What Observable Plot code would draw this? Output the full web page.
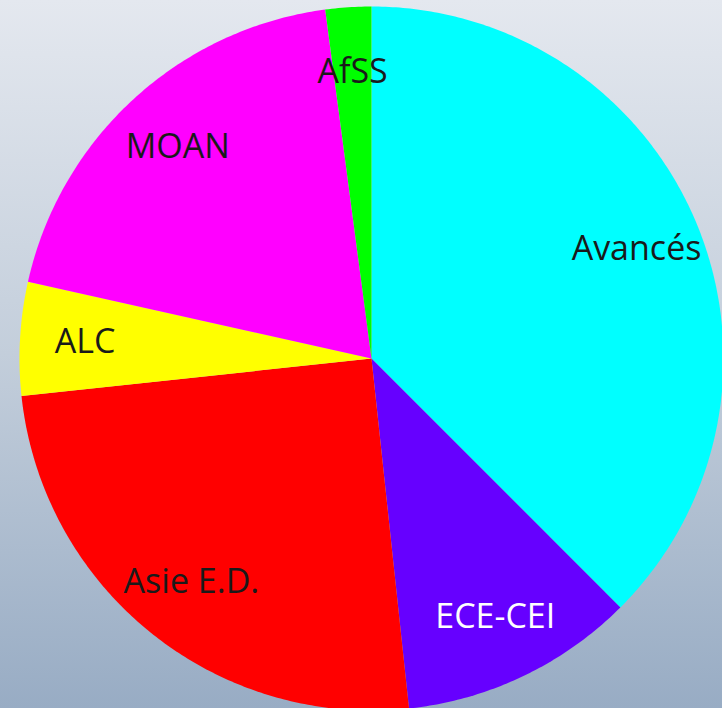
<!DOCTYPE html>
<html>
<head>
<meta charset="utf-8">
<script src="https://cdn.jsdelivr.net/npm/d3@7"></script>
<script src="https://cdn.jsdelivr.net/npm/@observablehq/plot@0.6"></script>
<style>
  html, body { margin: 0; padding: 0; }
  body { width: 722px; height: 708px; overflow: hidden; }
  #chart svg { display: block; }
</style>
</head>
<body>
<div id="chart"></div>
<script>
// Data (percent shares, clockwise from 12 o'clock)
const regions = ["Avancés", "ECE-CEI", "Asie E.D.", "ALC", "MOAN", "AfSS"];
const shares  = [37.5, 10.8, 25.0, 5.2, 19.4, 2.1];
const colors  = ["#00ffff", "#6600ff", "#ff0000", "#ffff00", "#ff00ff", "#00ff00"];
const labelColors = ["#1a1a1a", "#ffffff", "#1a1a1a", "#1a1a1a", "#1a1a1a", "#1a1a1a"];

const W = 722, H = 708;
const R = 352;          // pie radius in px units
const cx = 371, cy = 358; // pie centre in pixels
const labelR = 0.815 * R;

const pie = d3.pie().sort(null).value(d => d)(shares);

// Build polygons for each slice (angles from d3.pie, clockwise from top)
const pts = [];
pie.forEach((a, i) => {
  pts.push({key: regions[i], x: 0, y: 0, color: colors[i]});
  const n = Math.max(2, Math.ceil((a.endAngle - a.startAngle) / 0.01));
  for (let k = 0; k <= n; k++) {
    const t = a.startAngle + (a.endAngle - a.startAngle) * k / n;
    pts.push({key: regions[i], x: R * Math.sin(t), y: R * Math.cos(t), color: colors[i]});
  }
  pts.push({key: regions[i], x: 0, y: 0, color: colors[i]});
});

const labels = pie.map((a, i) => {
  const m = (a.startAngle + a.endAngle) / 2;
  return {name: regions[i], x: labelR * Math.sin(m), y: labelR * Math.cos(m), c: labelColors[i]};
});

const chart = Plot.plot({
  width: W,
  height: H,
  margin: 0,
  style: {background: "transparent", fontFamily: "'Open Sans', 'Noto Sans', sans-serif"},
  x: {domain: [-cx, W - cx], range: [0, W], axis: null},
  y: {domain: [-(H - cy), cy], range: [H, 0], axis: null},
  marks: [
    Plot.line(pts, {x: "x", y: "y", z: "key", fill: "color", stroke: "none", curve: "linear"}),
    Plot.text(labels, {x: "x", y: "y", text: "name", fill: "c", fontSize: 34, textAnchor: "middle", lineAnchor: "middle"})
  ]
});
chart.style.background = "linear-gradient(to bottom, #e4e8ef 0%, #c3cedb 50%, #98acc4 100%)";
document.getElementById("chart").appendChild(chart);
</script>
</body>
</html>
